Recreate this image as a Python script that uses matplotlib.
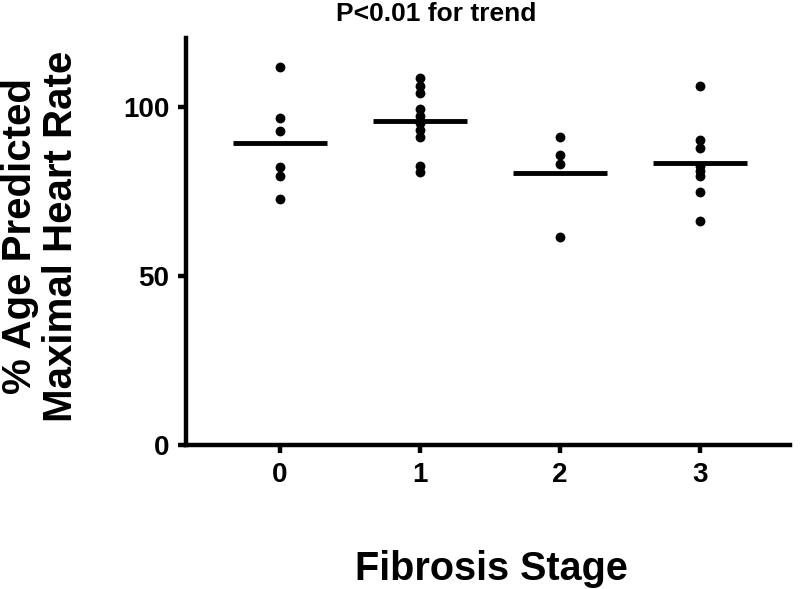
import numpy as np
import matplotlib
matplotlib.use("Agg")
import matplotlib.pyplot as plt

plt.rcParams['font.family'] = ['Liberation Sans', 'DejaVu Sans']
plt.rcParams['font.weight'] = 'bold'

stages = [0, 1, 2, 3]
stage0 = [112.0, 96.9, 92.9, 82.3, 79.5, 72.8]
stage1 = [108.7, 106.4, 104.3, 99.5, 97.5, 95.4, 93.2, 91.2, 82.7, 80.7]
stage2 = [91.2, 85.8, 83.2, 61.6]
stage3 = [106.2, 90.4, 88.0, 82.5, 81.0, 79.5, 74.8, 66.4]
groups = [stage0, stage1, stage2, stage3]

fig = plt.figure(figsize=(8, 5.89), dpi=100)
ax = fig.add_axes([0.2325, 0.2445, 0.755, 0.691])

for x, vals in zip(stages, groups):
    ax.scatter([x] * len(vals), vals, s=50, color='black', zorder=3, linewidths=0)
    ax.hlines(np.mean(vals), x - 0.335, x + 0.335, color='black', linewidth=3.5)

ax.set_xlim(-0.67, 3.64)
ax.set_ylim(0, 120.5)
ax.set_xticks(stages)
ax.set_yticks([0, 50, 100])
ax.tick_params(width=3.2, length=6, labelsize=20, pad=6)
for lab in ax.get_xticklabels() + ax.get_yticklabels():
    lab.set_fontweight('bold')
for s in ['top', 'right']:
    ax.spines[s].set_visible(False)
for s in ['left', 'bottom']:
    ax.spines[s].set_linewidth(3.2)

# title, axis labels placed in figure coords
fig.text(436.5 / 800, 1 - 21 / 589, 'P<0.01 for trend', fontsize=19,
         fontweight='bold', ha='center', va='baseline')
fig.text(41 / 800, 1 - 236 / 589, '% Age Predicted\nMaximal Heart Rate',
         fontsize=29, fontweight='bold', rotation=90, ha='center',
         va='center', multialignment='center', linespacing=1.1)
fig.text(491 / 800, 1 - 580 / 589, 'Fibrosis Stage', fontsize=28.5,
         fontweight='bold', ha='center', va='baseline')

fig.savefig('out.png', dpi=100)
